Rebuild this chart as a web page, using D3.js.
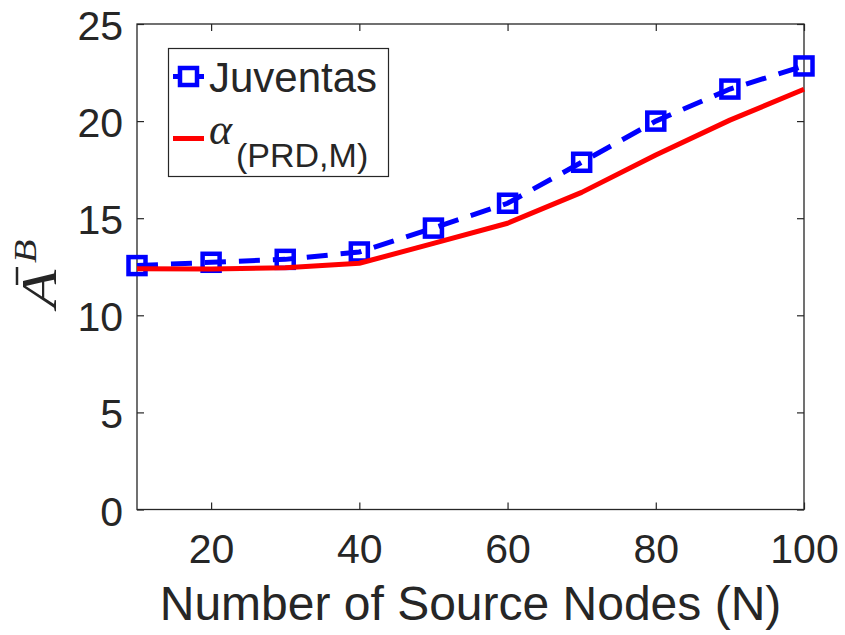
<!DOCTYPE html>
<html>
<head>
<meta charset="utf-8">
<script src="https://cdn.jsdelivr.net/npm/d3@7"></script>
<style>
  html, body { margin: 0; padding: 0; background: #fff; }
  svg { display: block; }
  text { fill: #262626; font-family: "Liberation Sans", Arial, Helvetica, sans-serif; }
</style>
</head>
<body>
<script>
// Number of source nodes on the x axis
const nodes = [10, 20, 30, 40, 50, 60, 70, 80, 90, 100];
// Juventas average (dashed, square markers)
const juventas = [12.56, 12.73, 12.88, 13.26, 14.49, 15.77, 17.88, 20.0, 21.65, 22.84];
// alpha_(PRD,M) (solid red)
const alphaPRD = [12.40, 12.39, 12.45, 12.68, 13.70, 14.74, 16.33, 18.25, 20.05, 21.64];
// Tick values
const xTicks = [20, 40, 60, 80, 100];
const yTicks = [0, 5, 10, 15, 20, 25];

const W = 845, H = 635;
const axisColor = "#262626";
const blue = "#0000ff", red = "#ff0000";

const svg = d3.select("body").append("svg").attr("width", W).attr("height", H);

const plotL = 137, plotR = 804, plotT = 24, plotB = 509.5;
const x = d3.scaleLinear().domain([10, 100]).range([plotL, plotR]);
const y = d3.scaleLinear().domain([0, 25]).range([plotB, plotT]);

// Axes (box on, ticks pointing inward on all four sides)
const tickLen = 7;
const gAx = svg.append("g");
gAx.append("g").attr("transform", `translate(0,${plotB})`)
  .call(d3.axisBottom(x).tickValues(xTicks).tickSizeInner(-tickLen).tickSizeOuter(0).tickPadding(24))
  .call(g => { g.select(".domain").remove(); g.selectAll("text").attr("font-size", 41).attr("dy", "0.71em"); });
gAx.append("g").attr("transform", `translate(0,${plotT})`)
  .call(d3.axisTop(x).tickValues(xTicks).tickSizeInner(-tickLen).tickSizeOuter(0).tickFormat(""))
  .call(g => g.select(".domain").remove());
gAx.append("g").attr("transform", `translate(${plotL},0)`)
  .call(d3.axisLeft(y).tickValues(yTicks).tickSizeInner(-tickLen).tickSizeOuter(0).tickPadding(14))
  .call(g => { g.select(".domain").remove(); g.selectAll("text").attr("font-size", 41).attr("dy", "0.38em"); });
gAx.append("g").attr("transform", `translate(${plotR},0)`)
  .call(d3.axisRight(y).tickValues(yTicks).tickSizeInner(-tickLen).tickSizeOuter(0).tickFormat(""))
  .call(g => g.select(".domain").remove());
gAx.selectAll(".tick line").attr("stroke", axisColor).attr("stroke-width", 1.2);
gAx.selectAll(".tick text").attr("fill", axisColor)
  .style("font-family", "'Liberation Sans', Arial, sans-serif");
gAx.append("rect")
  .attr("x", plotL).attr("y", plotT).attr("width", plotR - plotL).attr("height", plotB - plotT)
  .attr("fill", "none").attr("stroke", axisColor).attr("stroke-width", 1.3);

// Series
const line = d3.line().x(d => x(d[0])).y(d => y(d[1]));
const jData = nodes.map((n, i) => [n, juventas[i]]);
const aData = nodes.map((n, i) => [n, alphaPRD[i]]);

svg.append("path").datum(jData).attr("d", line)
  .attr("fill", "none").attr("stroke", blue).attr("stroke-width", 5)
  .attr("stroke-dasharray", "21,13");
const mk = 17;
svg.append("g").selectAll("rect").data(jData).join("rect")
  .attr("x", d => x(d[0]) - mk / 2).attr("y", d => y(d[1]) - mk / 2)
  .attr("width", mk).attr("height", mk)
  .attr("fill", "none").attr("stroke", blue).attr("stroke-width", 4.5);

svg.append("path").datum(aData).attr("d", line)
  .attr("fill", "none").attr("stroke", red).attr("stroke-width", 5)
  .attr("stroke-linejoin", "round");

// Legend
const lg = svg.append("g");
lg.append("rect").attr("x", 168.5).attr("y", 48.5).attr("width", 220).attr("height", 128)
  .attr("fill", "#fff").attr("stroke", axisColor).attr("stroke-width", 1.2);
lg.append("line").attr("x1", 173).attr("x2", 204).attr("y1", 76.5).attr("y2", 76.5)
  .attr("stroke", blue).attr("stroke-width", 5);
lg.append("rect").attr("x", 188.5 - mk / 2).attr("y", 76.5 - mk / 2).attr("width", mk).attr("height", mk)
  .attr("fill", "#fff").attr("stroke", blue).attr("stroke-width", 4.5);
lg.append("text").attr("x", 209).attr("y", 92).attr("font-size", 42).attr("fill", "#000")
  .text("Juventas");
lg.append("line").attr("x1", 173).attr("x2", 204).attr("y1", 138.5).attr("y2", 138.5)
  .attr("stroke", red).attr("stroke-width", 5);
const lt = lg.append("text").attr("x", 209).attr("y", 144).attr("fill", "#000");
lt.append("tspan").attr("font-size", 44).attr("font-style", "italic")
  .style("font-family", "'Liberation Serif', 'Times New Roman', serif").text("α");
lt.append("tspan").attr("x", 236).attr("y", 167).attr("font-size", 34).text("(PRD,M)");

// X axis title
svg.append("text").attr("x", (plotL + plotR) / 2).attr("y", 620)
  .attr("text-anchor", "middle").attr("font-size", 48).text("Number of Source Nodes (N)");

// Y axis title: A-bar with superscript B
const yl = svg.append("g").attr("transform", "translate(56,272) rotate(-90)");
const serif = "'Liberation Serif', 'Times New Roman', serif";
yl.append("text").attr("x", -36 / 1.25).attr("y", 0).attr("font-size", 50).attr("font-style", "italic")
  .attr("transform", "scale(1.25,1)")
  .style("font-family", serif).text("A");
yl.append("line").attr("x1", -13).attr("x2", 5).attr("y1", -39).attr("y2", -39)
  .attr("stroke", axisColor).attr("stroke-width", 2.5);
yl.append("text").attr("x", 9 / 1.2).attr("y", -20).attr("font-size", 32).attr("font-style", "italic")
  .attr("transform", "scale(1.2,1)")
  .style("font-family", serif).text("B");
</script>
</body>
</html>
